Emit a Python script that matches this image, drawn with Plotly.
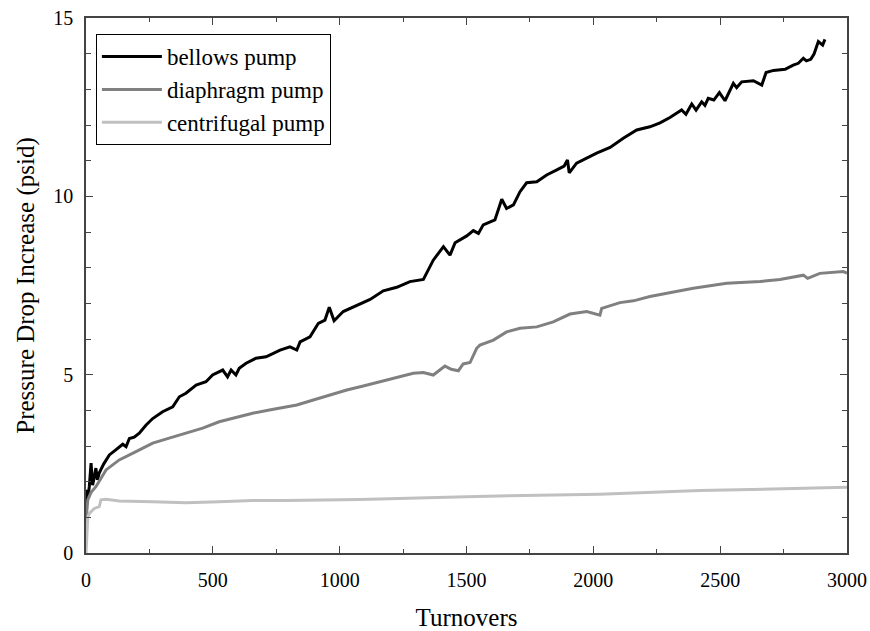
import plotly.graph_objects as go

# Bellows pump
bellows_x = [0, 3, 8, 13, 20, 26, 33, 39, 45, 52, 70, 92, 110, 131, 145, 158, 171, 190, 210, 237, 263, 302, 342, 368, 394,
             434, 473, 499, 539, 558, 572, 591, 604, 631, 670, 710, 736, 765, 804, 831, 844, 883, 916, 942, 959, 978,
             1014, 1067, 1120, 1172, 1225, 1277, 1330, 1369, 1409, 1435, 1455, 1501, 1527, 1547, 1566, 1612, 1639,
             1658, 1685, 1711, 1737, 1777, 1816, 1856, 1885, 1898, 1905, 1934, 1974, 2013, 2066, 2118, 2171, 2223,
             2263, 2302, 2348, 2365, 2388, 2405, 2427, 2440, 2453, 2475, 2497, 2519, 2552, 2565, 2585, 2631, 2664,
             2681, 2710, 2756, 2788, 2808, 2828, 2840, 2857, 2870, 2887, 2904, 2913]
bellows_y = [0.75, 1.77, 1.6, 1.86, 2.52, 1.9, 2.14, 2.38, 2.05, 2.24, 2.5, 2.75, 2.85, 2.98, 3.05, 2.98, 3.21, 3.25, 3.36,
             3.59, 3.77, 3.96, 4.10, 4.38, 4.48, 4.71, 4.80, 4.99, 5.13, 4.94, 5.13, 4.99, 5.18, 5.32, 5.46, 5.50,
             5.60, 5.69, 5.78, 5.69, 5.92, 6.06, 6.44, 6.53, 6.89, 6.51, 6.77, 6.95, 7.11, 7.35, 7.45, 7.61, 7.67,
             8.21, 8.59, 8.35, 8.70, 8.89, 9.04, 8.96, 9.20, 9.34, 9.92, 9.66, 9.76, 10.13, 10.38, 10.41, 10.60,
             10.74, 10.85, 11.02, 10.66, 10.93, 11.07, 11.21, 11.37, 11.63, 11.86, 11.95, 12.06, 12.21, 12.42, 12.30,
             12.59, 12.42, 12.65, 12.55, 12.75, 12.70, 12.91, 12.68, 13.17, 13.05, 13.21, 13.24, 13.12, 13.47, 13.53,
             13.56, 13.68, 13.73, 13.87, 13.80, 13.84, 13.99, 14.34, 14.24, 14.40]

# Diaphragm pump
diaphragm_x = [0, 7, 20, 39, 79, 131, 197, 263, 328, 394, 460, 525, 591, 657, 723, 788, 831, 896, 962, 1028, 1093, 1159,
               1225, 1290, 1330, 1369, 1415, 1440, 1468, 1487, 1514, 1540, 1553, 1606, 1658, 1711, 1777, 1842, 1908,
               1974, 2026, 2033, 2105, 2158, 2223, 2302, 2394, 2526, 2657, 2736, 2828, 2845, 2893, 2985, 3000]
diaphragm_y = [0.9, 1.49, 1.7, 1.86, 2.33, 2.61, 2.84, 3.08, 3.22, 3.36, 3.50, 3.68, 3.80, 3.92, 4.01, 4.10, 4.15, 4.29,
               4.43, 4.57, 4.68, 4.80, 4.90, 5.04, 5.06, 4.99, 5.24, 5.15, 5.11, 5.30, 5.34, 5.74, 5.83, 5.97, 6.20,
               6.30, 6.34, 6.48, 6.70, 6.77, 6.67, 6.86, 7.02, 7.07, 7.19, 7.30, 7.42, 7.56, 7.61, 7.67, 7.79, 7.70,
               7.84, 7.89, 7.85]

# Centrifugal pump
centrifugal_x = [0, 3, 7, 13, 33, 52, 59, 79, 131, 263, 394, 525, 657, 788, 1080, 1500, 2026, 2420, 2815, 3000]
centrifugal_y = [0.0, 0.6, 1.0, 1.11, 1.25, 1.30, 1.49, 1.51, 1.46, 1.44, 1.41, 1.44, 1.47, 1.47, 1.50, 1.58, 1.65, 1.75,
                 1.82, 1.84]

x_ticks = [0, 500, 1000, 1500, 2000, 2500, 3000]
y_ticks = [0, 5, 10, 15]

FONT = "Liberation Serif, Times New Roman, serif"
AX = "#444444"

fig = go.Figure()
fig.add_trace(go.Scatter(x=bellows_x, y=bellows_y, mode="lines", name="bellows pump",
                         line=dict(color="#000000", width=3)))
fig.add_trace(go.Scatter(x=diaphragm_x, y=diaphragm_y, mode="lines", name="diaphragm pump",
                         line=dict(color="#808080", width=3)))
fig.add_trace(go.Scatter(x=centrifugal_x, y=centrifugal_y, mode="lines", name="centrifugal pump",
                         line=dict(color="#c0c0c0", width=3)))

axis_common = dict(showgrid=False, zeroline=False, showline=True, linecolor=AX, linewidth=1.5,
                   mirror="ticks", ticks="inside", tickcolor=AX, tickwidth=1.2, automargin=False,
                   ticklabeloverflow="allow",
                   tickfont=dict(family=FONT, size=20, color="#000"))

fig.update_xaxes(range=[0, 3000], tickvals=x_ticks, ticklen=7, ticklabelstandoff=8,
                 minor=dict(dtick=250, ticks="inside", ticklen=4, tickcolor=AX, showgrid=False),
                 title=dict(text="Turnovers", font=dict(family=FONT, size=25, color="#000"), standoff=23),
                 **axis_common)
fig.update_yaxes(range=[0, 15], tickvals=y_ticks, ticklen=7, ticklabelstandoff=7,
                 minor=dict(dtick=1, ticks="inside", ticklen=5, tickcolor=AX, showgrid=False),
                 title=dict(text="Pressure Drop Increase (psid)", font=dict(family=FONT, size=25, color="#000"),
                            standoff=12),
                 **axis_common)

fig.update_layout(
    width=870, height=631,
    margin=dict(l=86, r=23, t=18, b=78),
    plot_bgcolor="white", paper_bgcolor="white",
    font=dict(family=FONT, size=20, color="#000"),
    showlegend=True,
    legend=dict(x=0.013, y=0.97, xanchor="left", yanchor="top",
                bgcolor="white", bordercolor="#000", borderwidth=1,
                font=dict(family=FONT, size=23, color="#000"),
                tracegroupgap=0, itemwidth=60),
)

fig.write_html("out.html", config={"displayModeBar": False},
               post_script="document.body.style.margin='0';document.body.style.overflow='hidden';")
